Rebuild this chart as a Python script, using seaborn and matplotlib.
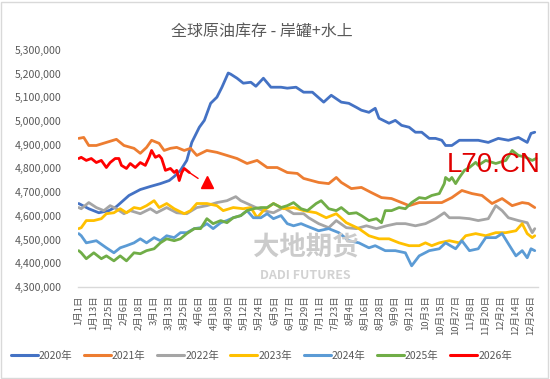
import matplotlib
matplotlib.use("Agg")
import matplotlib.pyplot as plt
import seaborn as sns
import pandas as pd
from matplotlib.ticker import FuncFormatter
from matplotlib.lines import Line2D
from matplotlib.patches import Rectangle

# 数据（单位：千桶，画图时 *1000）
years = ["2020年", "2021年", "2022年", "2023年", "2024年", "2025年", "2026年"]
colors = ["#4472C4", "#ED7D31", "#A5A5A5", "#FFC000", "#5B9BD5", "#70AD47", "#FF0000"]

tick_labels = ["1月1日", "1月13日", "1月25日", "2月6日", "2月18日", "3月1日", "3月13日",
               "3月25日", "4月6日", "4月18日", "4月30日", "5月12日", "5月24日", "6月5日",
               "6月17日", "6月29日", "7月11日", "7月23日", "8月4日", "8月16日", "8月28日",
               "9月9日", "9月21日", "10月3日", "10月15日", "10月27日", "11月8日", "11月20日",
               "12月2日", "12月14日", "12月26日"]

d2020 = [0, 8, 16, 24, 30, 40, 49, 57, 65, 72, 76, 81, 86, 90, 96, 100, 105, 110, 114, 119,
         121, 126, 131, 137, 141, 147, 153, 161, 166, 173, 179, 186, 195, 201, 209, 215, 221,
         225, 231, 236, 239, 247, 252, 257, 263, 268, 273, 279, 284, 289, 292, 297, 303, 311,
         318, 326, 334, 342, 350, 357, 360, 363]
v2020 = [4652, 4630, 4613, 4622, 4639, 4686, 4711, 4724, 4736, 4749, 4766, 4792, 4834, 4910,
         4974, 5003, 5075, 5101, 5143, 5203, 5198, 5181, 5160, 5164, 5147, 5181, 5143, 5143,
         5139, 5143, 5122, 5122, 5080, 5109, 5080, 5075, 5058, 5046, 5037, 5054, 5012, 4991,
         5003, 4982, 4974, 4953, 4953, 4927, 4927, 4919, 4897, 4897, 4919, 4919, 4919, 4910,
         4927, 4919, 4931, 4910, 4948, 4953]

d2021 = [0, 4, 8, 14, 22, 30, 36, 44, 49, 54, 58, 64, 68, 73, 78, 84, 89, 94, 102, 110, 118,
         126, 134, 142, 150, 158, 166, 174, 179, 191, 199, 205, 209, 217, 225, 233, 241, 249,
         257, 263, 271, 279, 289, 297, 305, 313, 321, 329, 337, 345, 353, 358, 363]
v2021 = [4927, 4931, 4897, 4897, 4910, 4923, 4897, 4885, 4864, 4889, 4919, 4906, 4876, 4885,
         4889, 4876, 4885, 4855, 4876, 4868, 4855, 4842, 4821, 4834, 4804, 4804, 4783, 4779,
         4758, 4741, 4736, 4762, 4741, 4715, 4720, 4698, 4677, 4673, 4656, 4643, 4656, 4656,
         4656, 4677, 4707, 4694, 4686, 4652, 4673, 4643, 4656, 4652, 4635]

d2022 = [0, 2, 8, 14, 20, 25, 30, 36, 41, 49, 57, 62, 70, 78, 86, 94, 102, 110, 118, 125, 129,
         134, 141, 147, 155, 163, 171, 179, 183, 191, 199, 205, 213, 221, 229, 237, 245, 253,
         260, 268, 276, 284, 291, 295, 303, 311, 318, 326, 332, 337, 342, 350, 357, 361, 363]
v2022 = [4635, 4630, 4656, 4635, 4622, 4643, 4630, 4609, 4622, 4609, 4630, 4613, 4635, 4613,
         4609, 4635, 4643, 4656, 4664, 4681, 4664, 4652, 4635, 4622, 4613, 4635, 4609, 4609,
         4592, 4567, 4550, 4580, 4550, 4546, 4558, 4546, 4558, 4567, 4567, 4558, 4567, 4588,
         4613, 4592, 4592, 4588, 4580, 4588, 4643, 4622, 4592, 4580, 4571, 4529, 4546]

d2023 = [0, 2, 6, 12, 18, 22, 28, 33, 38, 44, 49, 54, 60, 64, 70, 76, 84, 89, 94, 102, 110,
         115, 123, 131, 137, 142, 147, 155, 163, 171, 179, 189, 197, 205, 213, 223, 231, 239,
         247, 255, 263, 271, 276, 281, 287, 295, 303, 308, 316, 324, 332, 340, 348, 353, 357,
         361, 363]
v2023 = [4546, 4550, 4580, 4580, 4588, 4609, 4613, 4630, 4613, 4635, 4630, 4643, 4664, 4635,
         4652, 4630, 4609, 4622, 4652, 4652, 4643, 4622, 4635, 4630, 4635, 4592, 4622, 4652,
         4630, 4635, 4622, 4613, 4592, 4609, 4571, 4546, 4516, 4503, 4503, 4486, 4474, 4474,
         4486, 4474, 4486, 4495, 4486, 4516, 4525, 4516, 4529, 4529, 4537, 4567, 4525, 4508,
         4516]

d2024 = [0, 2, 6, 14, 22, 28, 33, 38, 44, 49, 54, 60, 65, 70, 76, 81, 86, 92, 97, 102, 107,
         113, 118, 123, 129, 134, 139, 145, 150, 155, 161, 166, 171, 177, 181, 191, 199, 207,
         215, 223, 231, 236, 244, 252, 260, 265, 271, 279, 287, 292, 300, 305, 311, 318, 324,
         332, 337, 342, 348, 353, 357, 360, 363]
v2024 = [4525, 4516, 4486, 4495, 4465, 4444, 4465, 4474, 4486, 4503, 4486, 4508, 4495, 4516,
         4508, 4529, 4529, 4546, 4550, 4567, 4546, 4571, 4580, 4592, 4601, 4622, 4592, 4592,
         4609, 4588, 4601, 4567, 4558, 4567, 4558, 4537, 4546, 4529, 4495, 4486, 4465, 4474,
         4453, 4453, 4444, 4389, 4431, 4453, 4461, 4486, 4461, 4495, 4453, 4461, 4508, 4508,
         4525, 4482, 4431, 4453, 4423, 4461, 4453]

d2025 = [0, 2, 6, 12, 18, 22, 28, 33, 38, 44, 49, 54, 60, 65, 70, 76, 81, 86, 92, 97, 102,
         107, 113, 118, 123, 129, 134, 139, 145, 150, 155, 161, 166, 171, 177, 182, 189, 193,
         199, 205, 209, 215, 221, 225, 231, 237, 241, 244, 249, 255, 260, 265, 271, 276, 281,
         287, 291, 292, 295, 297, 300, 303, 307, 311, 316, 318, 324, 332, 340, 345, 350, 356,
         361, 364]
v2025 = [4453, 4444, 4419, 4444, 4419, 4431, 4410, 4431, 4410, 4444, 4440, 4453, 4461, 4486,
         4503, 4495, 4503, 4525, 4546, 4546, 4588, 4567, 4580, 4571, 4592, 4601, 4622, 4630,
         4635, 4635, 4652, 4635, 4643, 4656, 4630, 4622, 4652, 4664, 4630, 4622, 4635, 4609,
         4613, 4601, 4580, 4588, 4571, 4622, 4622, 4635, 4630, 4656, 4677, 4673, 4686, 4694,
         4736, 4762, 4749, 4762, 4736, 4762, 4792, 4804, 4826, 4813, 4834, 4821, 4834, 4876,
         4855, 4847, 4834, 4842]

d2026 = [0, 2, 6, 10, 14, 18, 22, 25, 29, 32, 34, 38, 41, 45, 49, 53, 56, 58, 61, 64, 66,
         69, 73, 76, 78, 80, 82, 84, 88]
v2026 = [4842, 4847, 4834, 4842, 4825, 4834, 4804, 4825, 4842, 4842, 4813, 4800, 4821, 4804,
         4825, 4813, 4847, 4876, 4847, 4855, 4842, 4792, 4800, 4783, 4792, 4749, 4783, 4800,
         4783]

# 2026 走势预判（细线 + 三角）
trend_days = [88, 95]
trend_vals = [4783, 4758]
arrow_day = 102
arrow_val = 4741

series_days = [d2020, d2021, d2022, d2023, d2024, d2025, d2026]
series_vals = [v2020, v2021, v2022, v2023, v2024, v2025, v2026]

rows = []
for name, ds, vs in zip(years, series_days, series_vals):
    for d, v in zip(ds, vs):
        rows.append({"day": d, "value": v * 1000, "year": name})
df = pd.DataFrame(rows)

sns.set_theme(style="white")
plt.rcParams["font.family"] = ["Noto Sans CJK SC", "DejaVu Sans"]
grey = "#595959"

fig = plt.figure(figsize=(5.5, 3.79), dpi=100)
ax = fig.add_axes([0.142, 0.243, 0.836, 0.625])

# 水印
fig.add_artist(Rectangle((0.38, 0.255), 0.055, 0.125, transform=fig.transFigure,
                         fill=False, edgecolor="#C5D5E8", linewidth=3, zorder=0))
fig.add_artist(Rectangle((0.395, 0.275), 0.03, 0.09, transform=fig.transFigure,
                         fill=False, edgecolor="#EDE3C0", linewidth=2.5, zorder=0))
fig.text(0.555, 0.345, "大地期货", fontsize=19, color="#CBCBCB", fontweight="bold",
         ha="center", va="center", zorder=0)
fig.text(0.555, 0.272, "DADI FUTURES", fontsize=9, color="#D2D2D2", fontweight="bold",
         ha="center", va="center", zorder=0)

sns.lineplot(data=df, x="day", y="value", hue="year", palette=colors, hue_order=years,
             estimator=None, sort=False, linewidth=2.0, legend=False, ax=ax)

ax.plot(trend_days, [v * 1000 for v in trend_vals], color="#FF0000", linewidth=1.0)
ax.plot([arrow_day], [arrow_val * 1000], marker="^", color="#FF0000", markersize=8,
        linestyle="none")

ax.text(1.005, 0.515, "L70.CN", transform=ax.transAxes, fontsize=20, color="#E00000",
        family="Liberation Sans", ha="right", va="center", zorder=10)

ax.set_xlim(-0.5, 365.5)
ax.set_ylim(4_300_000, 5_300_000)
ax.set_yticks(range(4_300_000, 5_300_001, 100_000))
ax.yaxis.set_major_formatter(FuncFormatter(lambda v, p: f"{v:,.0f}"))
ax.set_xticks([12 * i for i in range(len(tick_labels))])
ax.set_xticklabels(tick_labels, rotation=90)
ax.tick_params(axis="both", labelsize=6.8, colors=grey, length=0)
ax.tick_params(axis="y", labelsize=7.6, pad=12)
ax.tick_params(axis="x", pad=6)
ax.set_xlabel("")
ax.set_ylabel("")

for s in ["top", "right", "left"]:
    ax.spines[s].set_visible(False)
ax.spines["bottom"].set_color("#D9D9D9")
ax.spines["bottom"].set_linewidth(1.0)

fig.suptitle("全球原油库存 - 岸罐+水上", x=0.477, y=0.94, fontsize=11.5, color=grey)

handles = [Line2D([0], [0], color=c, linewidth=2.2) for c in colors]
fig.legend(handles, years, loc="center", bbox_to_anchor=(0.475, 0.062), ncol=7, frameon=False,
           fontsize=7.5, handlelength=2.6, handletextpad=0.1, columnspacing=1.1,
           labelcolor=grey)

fig.patches.append(Rectangle((0.002, 0.003), 0.995, 0.993, transform=fig.transFigure,
                             fill=False, edgecolor="#D9D9D9", linewidth=1.0))

fig.savefig("out.png", dpi=100)
